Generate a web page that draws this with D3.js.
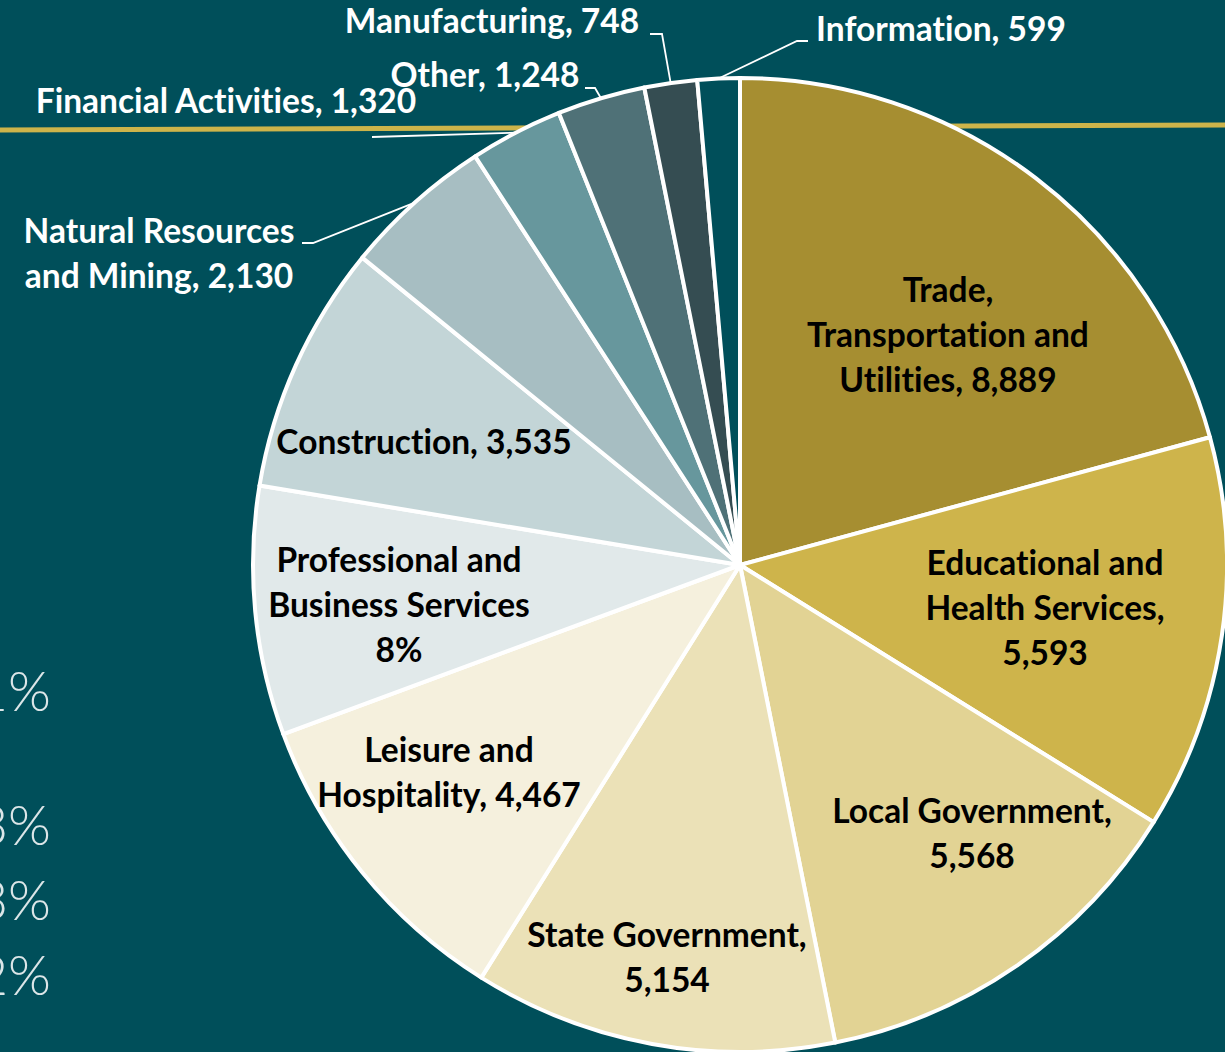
<!DOCTYPE html>
<html>
<head>
<meta charset="utf-8">
<script src="https://cdn.jsdelivr.net/npm/d3@7"></script>
<style>
  html, body { margin: 0; padding: 0; background: #004F5A; overflow: hidden; }
  svg { display: block; }
  text { font-family: Lato, "Open Sans", sans-serif; font-variant-ligatures: none; }
</style>
</head>
<body>
<svg id="chart" width="1225" height="1052"></svg>
<script>
// data
const sectors = [
  "Trade, Transportation and Utilities", "Educational and Health Services",
  "Local Government", "State Government", "Leisure and Hospitality",
  "Professional and Business Services", "Construction",
  "Natural Resources and Mining", "Financial Activities", "Other",
  "Manufacturing", "Information"
];
const employment = [8889, 5593, 5568, 5154, 4467, 3531, 3535, 2130, 1320, 1248, 748, 599];
const labelLines = [
  ["Trade,", "Transportation and", "Utilities, 8,889"],
  ["Educational and", "Health Services,", "5,593"],
  ["Local Government,", "5,568"],
  ["State Government,", "5,154"],
  ["Leisure and", "Hospitality, 4,467"],
  ["Professional and", "Business Services", "8%"],
  ["Construction, 3,535"],
  ["Natural Resources", "and Mining, 2,130"],
  ["Financial Activities, 1,320"],
  ["Other, 1,248"],
  ["Manufacturing, 748"],
  ["Information, 599"]
];
const sideTicks = ["1%", "3%", "3%", "2%"];

// styles / layout
const colors = ["#A68E31", "#CEB44B", "#E2D394", "#EBE1B7", "#F5F0DD", "#E1E9EA",
                "#C3D5D7", "#A7BEC2", "#67979D", "#4F7177", "#354D52", "#004F5A"];
const cx = 740, cy = 565, R = 487, lineH = 45, fontSize = 33.5;
// label placement: x, first baseline, colour, leader elbow points
const labelPos = [
  { x: 948, y: 302 },
  { x: 1045, y: 575 },
  { x: 972, y: 823 },
  { x: 667, y: 947 },
  { x: 449, y: 762 },
  { x: 399, y: 572 },
  { x: 424, y: 454 },
  { x: 159, y: 243, out: true, leader: [[302, 243], [313, 243]] },
  { x: 226, y: 113, out: true, leader: [[372, 137]] },
  { x: 485, y: 87, out: true, leader: [[585, 88], [595, 88]] },
  { x: 492, y: 33, out: true, leader: [[650, 34], [662, 34]] },
  { x: 941, y: 41, out: true, leader: [[808, 41], [797, 41]] }
];
const tickBase = [711, 845, 920, 995];

const svg = d3.select("#chart");

// faint percentages of the slide underneath, cut off at the left edge
svg.append("g").selectAll("text").data(sideTicks).join("text")
  .attr("x", 51).attr("y", (d, i) => tickBase[i])
  .attr("text-anchor", "end")
  .attr("fill", "#DCE6E8")
  .attr("font-family", "'Open Sans', sans-serif")
  .attr("font-size", 55)
  .attr("font-weight", 300)
  .text(d => d);

// gold rule
svg.append("line")
  .attr("x1", 0).attr("y1", 130).attr("x2", 1225).attr("y2", 125)
  .attr("stroke", "#CDB44A").attr("stroke-width", 5);

const pie = d3.pie().sort(null).value(d => d)(employment);
const arc = d3.arc().innerRadius(0).outerRadius(R);
const rim = d3.arc().innerRadius(R).outerRadius(R);

const g = svg.append("g").attr("transform", `translate(${cx},${cy})`);
g.selectAll("path").data(pie).join("path")
  .attr("d", arc)
  .attr("fill", (d, i) => colors[i])
  .attr("stroke", "#fff")
  .attr("stroke-width", 4)
  .attr("stroke-linejoin", "round");

// leader lines from the outside labels to the rim
pie.forEach((d, i) => {
  const p = labelPos[i];
  if (!p.leader) return;
  const [ex, ey] = rim.centroid(d);
  const pts = [...p.leader, [cx + ex, cy + ey]];
  svg.append("path")
    .attr("d", d3.line()(pts))
    .attr("fill", "none")
    .attr("stroke", "#fff")
    .attr("stroke-width", 1.8);
});

// labels
labelLines.forEach((lines, i) => {
  const p = labelPos[i];
  const t = svg.append("text")
    .attr("text-anchor", "middle")
    .attr("font-size", fontSize)
    .attr("font-weight", 700)
    .attr("fill", p.out ? "#fff" : "#000");
  lines.forEach((s, k) => {
    t.append("tspan").attr("x", p.x).attr("y", p.y + k * lineH).text(s);
  });
});
</script>
</body>
</html>
